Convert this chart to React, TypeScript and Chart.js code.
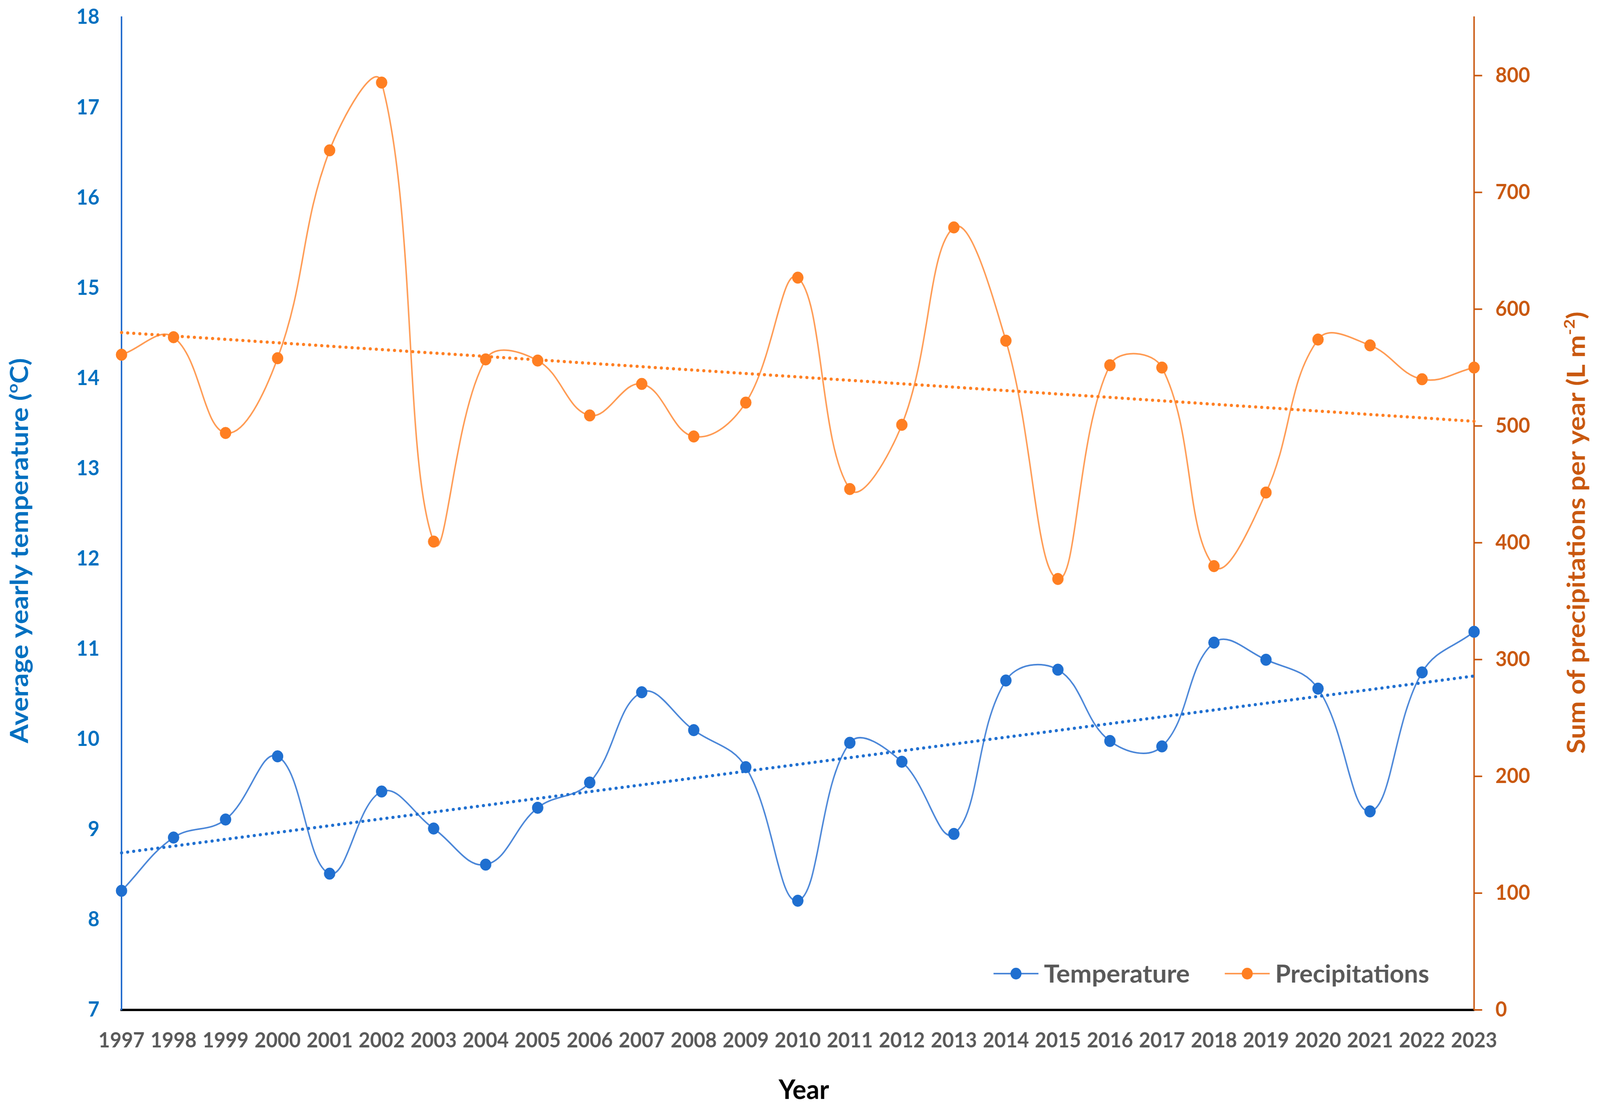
import { useEffect, useRef } from 'react';
import { Chart, registerables } from 'chart.js';

Chart.register(...registerables);

const years = [
  '1997', '1998', '1999', '2000', '2001', '2002', '2003', '2004', '2005',
  '2006', '2007', '2008', '2009', '2010', '2011', '2012', '2013', '2014',
  '2015', '2016', '2017', '2018', '2019', '2020', '2021', '2022', '2023',
];

const temperature = [
  8.32, 8.91, 9.11, 9.81, 8.51, 9.42, 9.01, 8.61, 9.24,
  9.52, 10.52, 10.1, 9.69, 8.21, 9.96, 9.75, 8.95, 10.65,
  10.77, 9.98, 9.92, 11.07, 10.88, 10.56, 9.2, 10.74, 11.19,
];

const precipitation = [
  561, 576, 494, 558, 736, 794, 401, 557, 556,
  509, 536, 491, 520, 627, 446, 501, 670, 573,
  369, 552, 550, 380, 443, 574, 569, 540, 550,
];

// trend line end values read at the first and last year
const temperatureTrend = [8.74, 10.7];
const precipitationTrend = [580, 504];

const tempRange = [7, 18];
const precipRange = [0, 850];

const W = 4345;
const H = 2832;

const BLUE_TEXT = '#0070C0';
const BLUE_AXIS = '#1F69CC';
const BLUE_LINE = '#4A86D8';
const BLUE_MARK = '#1F6FD0';
const ORANGE_TEXT = '#C9580F';
const ORANGE_LINE = '#FF9A52';
const ORANGE_MARK = '#FF7F22';
const GREY = '#595959';
const FONT = 'Lato, "Open Sans", sans-serif';

type Part = { text: string; sup?: boolean };

function drawRich(
  ctx: CanvasRenderingContext2D,
  parts: Part[],
  cx: number,
  cy: number,
  size: number,
  color: string,
  rotation: number,
  targetWidth: number,
) {
  ctx.save();
  ctx.translate(cx, cy);
  ctx.rotate(rotation);
  const supSize = Math.round(size * 0.62);
  const widths = parts.map((p) => {
    ctx.font = `bold ${p.sup ? supSize : size}px ${FONT}`;
    return ctx.measureText(p.text).width;
  });
  const total = widths.reduce((a, b) => a + b, 0);
  const sx = targetWidth > 0 ? targetWidth / total : 1;
  ctx.scale(sx, 1);
  ctx.fillStyle = color;
  ctx.textBaseline = 'alphabetic';
  ctx.textAlign = 'left';
  let x = -total / 2;
  const base = size * 0.36;
  parts.forEach((p, i) => {
    ctx.font = `bold ${p.sup ? supSize : size}px ${FONT}`;
    ctx.fillText(p.text, x, p.sup ? base - size * 0.42 : base);
    x += widths[i];
  });
  ctx.restore();
}

const decorPlugin = {
  id: 'decor',
  afterDraw(chart: any) {
    const { ctx, chartArea } = chart;

    // short outward tick marks on the precipitation axis
    const ys = chart.scales.y1;
    ctx.save();
    ctx.strokeStyle = ORANGE_TEXT;
    ctx.lineWidth = 4;
    ys.ticks.forEach((t: any) => {
      const py = ys.getPixelForValue(t.value);
      ctx.beginPath();
      ctx.moveTo(chartArea.right, py);
      ctx.lineTo(chartArea.right + 22, py);
      ctx.stroke();
    });
    ctx.restore();

    // axis titles
    drawRich(
      ctx,
      [{ text: 'Average yearly temperature (' }, { text: 'o', sup: true }, { text: 'C)' }],
      52,
      1410,
      66,
      BLUE_TEXT,
      -Math.PI / 2,
      986,
    );
    drawRich(
      ctx,
      [{ text: 'Sum of precipitations per year (L m' }, { text: '-2', sup: true }, { text: ')' }],
      4280,
      1364,
      66,
      ORANGE_TEXT,
      -Math.PI / 2,
      1132,
    );
    drawRich(ctx, [{ text: 'Year' }], 2183, 2790, 68, '#000000', 0, 137);

    // legend inside the plot area
    const ly = chartArea.bottom - 93;
    const items = [
      { label: 'Temperature', line: BLUE_LINE, mark: BLUE_MARK, x0: 2698, w: 396 },
      { label: 'Precipitations', line: ORANGE_LINE, mark: ORANGE_MARK, x0: 3326, w: 418 },
    ];
    items.forEach((it) => {
      ctx.save();
      ctx.strokeStyle = it.line;
      ctx.lineWidth = 4;
      ctx.beginPath();
      ctx.moveTo(it.x0, ly);
      ctx.lineTo(it.x0 + 122, ly);
      ctx.stroke();
      ctx.fillStyle = it.mark;
      ctx.beginPath();
      ctx.arc(it.x0 + 61, ly, 15, 0, Math.PI * 2);
      ctx.fill();
      ctx.restore();
      drawRich(ctx, [{ text: it.label }], it.x0 + 137 + it.w / 2, ly, 64, GREY, 0, it.w);
    });
  },
};

export default function App() {
  const ref = useRef<HTMLCanvasElement | null>(null);

  useEffect(() => {
    if (!ref.current) return;
    const chart = new Chart(ref.current, {
      type: 'line',
      data: {
        labels: years,
        datasets: [
          {
            label: 'Temperature',
            data: temperature,
            yAxisID: 'y',
            borderColor: BLUE_LINE,
            borderWidth: 4,
            backgroundColor: BLUE_MARK,
            pointBackgroundColor: BLUE_MARK,
            pointBorderColor: BLUE_MARK,
            pointBorderWidth: 1,
            pointRadius: 15,
            tension: 0.4,
            clip: false as any,
            order: 2,
          },
          {
            label: 'Precipitations',
            data: precipitation,
            yAxisID: 'y1',
            borderColor: ORANGE_LINE,
            borderWidth: 4,
            backgroundColor: ORANGE_MARK,
            pointBackgroundColor: ORANGE_MARK,
            pointBorderColor: ORANGE_MARK,
            pointBorderWidth: 1,
            pointRadius: 15,
            tension: 0.4,
            clip: false as any,
            order: 2,
          },
          {
            label: 'Temperature trend',
            data: [
              { x: years[0], y: temperatureTrend[0] },
              { x: years[years.length - 1], y: temperatureTrend[1] },
            ] as any,
            yAxisID: 'y',
            borderColor: BLUE_MARK,
            borderWidth: 8,
            borderDash: [0.5, 16],
            borderCapStyle: 'round',
            pointRadius: 0,
            tension: 0,
            clip: false as any,
            order: 1,
          },
          {
            label: 'Precipitation trend',
            data: [
              { x: years[0], y: precipitationTrend[0] },
              { x: years[years.length - 1], y: precipitationTrend[1] },
            ] as any,
            yAxisID: 'y1',
            borderColor: ORANGE_MARK,
            borderWidth: 8,
            borderDash: [0.5, 16],
            borderCapStyle: 'round',
            pointRadius: 0,
            tension: 0,
            clip: false as any,
            order: 1,
          },
        ],
      },
      options: {
        responsive: false,
        animation: false,
        devicePixelRatio: 1,
        layout: { padding: { top: 44, left: 0, right: 0, bottom: 0 } },
        plugins: {
          legend: { display: false },
          tooltip: { enabled: false },
          title: { display: false },
        },
        scales: {
          x: {
            type: 'category',
            offset: false,
            grid: { display: true, drawOnChartArea: false, drawTicks: false },
            border: { display: true, color: '#000000', width: 6 },
            ticks: {
              color: GREY,
              font: { family: FONT, size: 54, weight: 'bold' },
              padding: 46,
              autoSkip: false,
              maxRotation: 0,
              minRotation: 0,
            },
            afterFit: (s: any) => {
              s.height = 246;
            },
          },
          y: {
            type: 'linear',
            position: 'left',
            min: tempRange[0],
            max: tempRange[1],
            grid: {
              display: true,
              drawOnChartArea: false,
              drawTicks: true,
              tickLength: 60,
              tickColor: 'rgba(0,0,0,0)',
            },
            border: { display: true, color: BLUE_AXIS, width: 4 },
            ticks: {
              stepSize: 1,
              color: BLUE_TEXT,
              font: { family: FONT, size: 54, weight: 'bold' },
              padding: 0,
            },
            afterFit: (s: any) => {
              s.width = 330;
            },
          },
          y1: {
            type: 'linear',
            position: 'right',
            min: precipRange[0],
            max: precipRange[1],
            grid: {
              display: true,
              drawOnChartArea: false,
              drawTicks: true,
              tickLength: 58,
              tickColor: 'rgba(0,0,0,0)',
            },
            border: { display: true, color: ORANGE_TEXT, width: 4 },
            ticks: {
              stepSize: 100,
              includeBounds: false,
              color: ORANGE_TEXT,
              font: { family: FONT, size: 54, weight: 'bold' },
              padding: 0,
            },
            afterFit: (s: any) => {
              s.width = 342;
            },
          },
        },
      } as any,
      plugins: [decorPlugin],
    });
    return () => chart.destroy();
  }, []);

  return (
    <div style={{ position: 'fixed', left: 0, top: 0, width: '100vw', height: '100vh', background: '#ffffff', overflow: 'hidden' }}>
      <canvas ref={ref} width={W} height={H} style={{ display: 'block', width: '100vw', height: '100vh' }} />
    </div>
  );
}
